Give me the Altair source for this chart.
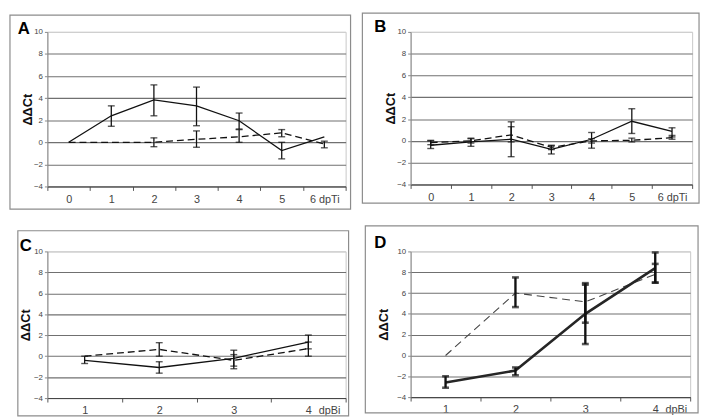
import altair as alt
import pandas as pd

FONT = "Liberation Sans"

# ---------------- data ----------------
A_days = ["0", "1", "2", "3", "4", "5", "6"]
A_solid = [0.0, 2.4, 3.85, 3.3, 1.95, -0.75, 0.5]
A_solid_lo = [None, 1.45, 2.4, 1.5, 1.2, -1.5, None]
A_solid_hi = [None, 3.3, 5.2, 5.0, 2.65, 0.0, None]
A_dash = [0.0, 0.0, 0.0, 0.27, 0.5, 0.85, -0.15]
A_dash_lo = [None, None, -0.4, -0.45, 0.0, 0.5, -0.5]
A_dash_hi = [None, None, 0.4, 1.03, 1.15, 1.15, 0.1]

B_days = ["0", "1", "2", "3", "4", "5", "6"]
B_solid = [-0.4, -0.1, 0.15, -0.78, 0.15, 1.8, 0.88]
B_solid_lo = [-0.7, -0.5, -1.45, -1.2, -0.67, 0.68, 0.36]
B_solid_hi = [0.0, 0.25, 1.75, -0.45, 0.77, 2.95, 1.2]
B_dash = [-0.15, 0.0, 0.55, -0.6, 0.0, 0.05, 0.3]
B_dash_lo = [-0.35, -0.2, -0.1, -0.8, -0.2, -0.1, 0.15]
B_dash_hi = [0.05, 0.2, 1.3, -0.4, 0.2, 0.25, 0.5]

C_days = ["1", "2", "3", "4"]
C_solid = [-0.4, -1.08, -0.2, 1.35]
C_solid_lo = [-0.7, -1.62, -1.2, 0.7]
C_solid_hi = [0.0, -0.53, 0.57, 2.02]
C_dash = [0.0, 0.65, -0.4, 0.72]
C_dash_lo = [None, 0.0, -0.95, 0.0]
C_dash_hi = [None, 1.29, 0.15, 1.35]

D_days = ["1", "2", "3", "4"]
D_solid = [-2.6, -1.45, 4.0, 8.4]
D_solid_lo = [-3.1, -1.9, 1.1, 7.0]
D_solid_hi = [-2.0, -1.15, 6.95, 9.9]
D_dash = [0.0, 6.0, 5.15, 7.8]
D_dash_lo = [None, 4.65, 3.15, 7.0]
D_dash_hi = [None, 7.5, 6.8, 8.8]

Y_TICKS = [-4, -2, 0, 2, 4, 6, 8, 10]


def make_df(days, s, s_lo, s_hi, d, d_lo, d_hi):
    rows = []
    for i, day in enumerate(days):
        rows.append({"day": day, "series": "solid", "v": s[i], "lo": s_lo[i], "hi": s_hi[i]})
        rows.append({"day": day, "series": "dash", "v": d[i], "lo": d_lo[i], "hi": d_hi[i]})
    return pd.DataFrame(rows)


def panel(days, s, s_lo, s_hi, d, d_lo, d_hi, letter, unit, w, h,
          frame, letter_xy, title_x, thick=False, unit_as_label=True):
    df = make_df(days, s, s_lo, s_hi, d, d_lo, d_hi)
    last = days[-1]

    common_x = dict(labelAngle=0, tickBand="extent", ticks=True, tickSize=4,
                    tickColor="#555", domainColor="#444", labelFont=FONT, labelFontSize=11,
                    labelColor="#444", labelPadding=3, grid=False)
    if unit_as_label:
        x_axis = alt.Axis(
            title=None,
            labelExpr=f"datum.label == '{last}' ? '{last} {unit}' : datum.label",
            **common_x)
    else:
        x_axis = alt.Axis(
            title=unit,
            titleFont=FONT, titleFontSize=11, titleFontWeight="normal", titleColor="#444",
            titleAngle=0, titleAlign="left", titleBaseline="top",
            titleX=w * (len(days) - 0.5) / len(days) + 10, titleY=7,
            **common_x)

    def X():
        return alt.X("day:O", sort=days, bandPosition=0.5,
                     scale=alt.Scale(type="band", paddingInner=0, paddingOuter=0),
                     axis=x_axis)

    y_axis = alt.Axis(
        values=Y_TICKS, title="ΔΔCt", titleFont=FONT, titleFontSize=13,
        titleFontWeight="bold", titleColor="#111", titleAngle=-90,
        titleX=title_x, titleY=h / 2, titleAlign="center", titleBaseline="middle",
        grid=True,
        gridColor={"condition": {"test": "datum.value === 10", "value": "#cfcfcf"},
                   "value": "#707070"},
        gridWidth=1.1, labelFont=FONT, labelFontSize=8, labelColor="#444",
        tickSize=3, tickColor="#888", domainColor="#888", labelPadding=2,
    )

    def Y(field):
        return alt.Y(f"{field}:Q", scale=alt.Scale(domain=[-4, 10], nice=False), axis=y_axis)

    base = alt.Chart(df)
    one = alt.Chart(pd.DataFrame({"k": [0]}))

    frame_mark = one.mark_rect(fillOpacity=0, stroke="#8c8c8c", strokeWidth=1.2).encode(
        x=alt.value(frame[0]), x2=alt.value(frame[1]),
        y=alt.value(frame[2]), y2=alt.value(frame[3]))
    letter_mark = one.mark_text(text=letter, font=FONT, fontSize=17, fontWeight="bold",
                                align="left", baseline="alphabetic", color="#000").encode(
        x=alt.value(letter_xy[0]), y=alt.value(letter_xy[1]))

    if thick:
        s_style = dict(color="#262626", strokeWidth=2.6)
        d_style = dict(color="#444", strokeWidth=1.1, strokeDash=[8, 5])
        eb_w, cap_th = 2.4, 2.6
    else:
        s_style = dict(color="#111", strokeWidth=1.3)
        d_style = dict(color="#111", strokeWidth=1.3, strokeDash=[7, 4])
        eb_w, cap_th = 1.3, 1.4

    solid_line = base.transform_filter("datum.series == 'solid'").mark_line(**s_style).encode(
        x=X(), y=Y("v"))
    dash_line = base.transform_filter("datum.series == 'dash'").mark_line(**d_style).encode(
        x=X(), y=Y("v"))
    errs = base.transform_filter("isValid(datum.lo)")
    rules = errs.mark_rule(color="#111", strokeWidth=eb_w).encode(
        x=X(), y=Y("lo"), y2="hi:Q")
    cap_lo = errs.mark_tick(color="#111", size=7, thickness=cap_th).encode(x=X(), y=Y("lo"))
    cap_hi = errs.mark_tick(color="#111", size=7, thickness=cap_th).encode(x=X(), y=Y("hi"))

    return alt.layer(frame_mark, letter_mark, dash_line, solid_line, rules, cap_lo, cap_hi
                     ).properties(width=w, height=h)


pA = panel(A_days, A_solid, A_solid_lo, A_solid_hi, A_dash, A_dash_lo, A_dash_hi,
           "A", "dpTi", 303, 157, (-38, 308, -17, 180), (-30, 2), -20)
pB = panel(B_days, B_solid, B_solid_lo, B_solid_hi, B_dash, B_dash_lo, B_dash_hi,
           "B", "dpTi", 286, 155, (-49, 293, -19, 174), (-37, 0), -20)
pC = panel(C_days, C_solid, C_solid_lo, C_solid_hi, C_dash, C_dash_lo, C_dash_hi,
           "C", "dpBi", 303, 149, (-30, 306, -21, 167), (-28, 0), -22, unit_as_label=False)
pD = panel(D_days, D_solid, D_solid_lo, D_solid_hi, D_dash, D_dash_lo, D_dash_hi,
           "D", "dpBi", 284, 148, (-46, 292, -26, 164), (-37, -3), -27, thick=True,
           unit_as_label=False)

chart = alt.concat(pA, pB, pC, pD, columns=2, spacing=66, bounds="flush").properties(
    padding=0, background="white"
).configure_view(stroke="#c8c8c8", strokeWidth=1)

chart.save("out.html", embed_options={"renderer": "svg", "actions": False})
